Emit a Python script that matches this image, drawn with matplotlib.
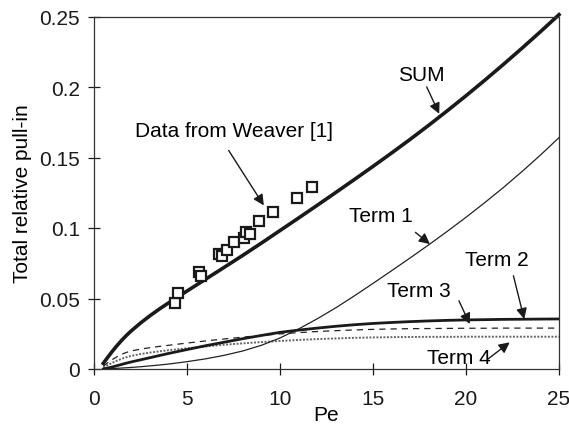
import matplotlib
matplotlib.use("Agg")
import matplotlib.pyplot as plt

plt.rcParams['font.family'] = ['Liberation Sans', 'DejaVu Sans']

# Curves
pe = [0.5, 0.75, 1, 1.25, 1.5, 1.75, 2, 2.5, 3, 3.5, 4, 5, 6, 7, 8, 9, 10, 11, 12,
      13, 14, 15, 16, 17, 18, 19, 20, 21, 22, 23, 24, 25]
sum_curve = [0.004, 0.0085, 0.0128, 0.0168, 0.0205, 0.0239, 0.027, 0.0326, 0.0377, 0.0424,
             0.0468, 0.0553, 0.0637, 0.0721, 0.0806, 0.0893, 0.0982, 0.1071, 0.1161, 0.1252,
             0.1344, 0.1437, 0.1532, 0.1629, 0.1729, 0.1832, 0.1938, 0.2047, 0.2159, 0.2274,
             0.2392, 0.2513]
term1 = [0.0, 0.0001, 0.0003, 0.0005, 0.0007, 0.0009, 0.0011, 0.0016, 0.0022, 0.0028,
         0.0035, 0.0052, 0.0072, 0.0097, 0.0128, 0.0168, 0.022, 0.0284, 0.0356, 0.0434,
         0.0519, 0.0607, 0.0697, 0.0788, 0.0881, 0.0977, 0.1076, 0.1179, 0.1286, 0.1399,
         0.1517, 0.1641]
term2 = [0.0, 0.0007, 0.0015, 0.0024, 0.0033, 0.0042, 0.005, 0.0065, 0.008, 0.0095,
         0.011, 0.0138, 0.0165, 0.019, 0.0215, 0.0238, 0.026, 0.0276, 0.029, 0.0303,
         0.0314, 0.0323, 0.033, 0.0336, 0.0341, 0.0345, 0.0348, 0.035, 0.0352, 0.0353,
         0.0354, 0.0355]
term3 = [0.002, 0.0045, 0.0068, 0.0088, 0.0105, 0.0118, 0.0128, 0.0141, 0.0151, 0.016,
         0.0168, 0.0184, 0.0199, 0.0213, 0.0226, 0.0238, 0.0249, 0.0258, 0.0266, 0.0272,
         0.0277, 0.0281, 0.0284, 0.0286, 0.0287, 0.0288, 0.0289, 0.0289, 0.029, 0.029,
         0.029, 0.029]
term4 = [0.001, 0.0028, 0.0045, 0.006, 0.0073, 0.0084, 0.0093, 0.0106, 0.0116, 0.0125,
         0.0133, 0.0147, 0.016, 0.0172, 0.0182, 0.0191, 0.0199, 0.0206, 0.0212, 0.0217,
         0.0221, 0.0224, 0.0226, 0.0227, 0.0228, 0.0228, 0.0229, 0.0229, 0.0229, 0.0229,
         0.0229, 0.0229]

# Weaver data
weaver_pe = [4.35, 4.53, 5.66, 5.74, 6.74, 6.87, 7.13, 7.53, 8.06, 8.15, 8.4, 8.87, 9.64, 10.9, 11.72]
weaver_y = [0.0466, 0.0539, 0.0685, 0.0657, 0.0813, 0.0799, 0.0843, 0.0902, 0.0926, 0.097,
            0.096, 0.105, 0.111, 0.121, 0.129]

xticks = [0, 5, 10, 15, 20, 25]
yticks = [0, 0.05, 0.1, 0.15, 0.2, 0.25]
yticklabels = ['0', '0.05', '0.1', '0.15', '0.2', '0.25']

fig = plt.figure(figsize=(5.69, 4.31), dpi=100)
ax = fig.add_axes([94/569, 1-370/431, (559-94)/569, (370-17.5)/431])

ax.plot(pe, term4, color='#666666', lw=1.4, linestyle=(0, (1, 0.8)))
ax.plot(pe, term3, color='#222222', lw=0.9, linestyle=(0, (5, 4)))
ax.plot(pe, term1, color='#222222', lw=0.9)
ax.plot(pe, term2, color='#1a1a1a', lw=2.0)
ax.plot(pe, sum_curve, color='#1a1a1a', lw=2.6, clip_on=False)
ax.plot(weaver_pe, weaver_y, linestyle='none', marker='s', markersize=7.5,
        markerfacecolor='white', markeredgecolor='#1a1a1a', markeredgewidth=1.6)

ax.set_xlim(0, 25)
ax.set_ylim(0, 0.25)
ax.set_xticks(xticks)
ax.set_xticklabels([str(v) for v in xticks])
ax.set_yticks(yticks)
ax.set_yticklabels(yticklabels)
ax.tick_params(direction='inout', length=8.5, width=0.9, labelsize=15, colors='#1a1a1a')
ax.tick_params(axis='x', pad=10)
ax.tick_params(axis='y', pad=6)
for s in ax.spines.values():
    s.set_linewidth(0.9)
    s.set_color('#333333')

ax.set_xlabel('Pe', fontsize=15, labelpad=-2)
ax.set_ylabel('Total relative pull-in', fontsize=15, labelpad=5)

arrow = dict(arrowstyle='-|>', lw=1.0, color='#1a1a1a', mutation_scale=16,
             shrinkA=0, shrinkB=0)
fs = 15
ax.text(17.62, 0.209, 'SUM', fontsize=fs, ha='center', va='center')
ax.annotate('', xy=(18.56, 0.181), xytext=(17.89, 0.200), arrowprops=arrow)
ax.text(7.53, 0.169, 'Data from Weaver [1]', fontsize=fs, ha='center', va='center')
ax.annotate('', xy=(9.13, 0.116), xytext=(7.24, 0.155), arrowprops=arrow)
ax.text(15.43, 0.1087, 'Term 1', fontsize=fs, ha='center', va='center')
ax.annotate('', xy=(18.06, 0.0886), xytext=(17.28, 0.0969), arrowprops=arrow)
ax.text(21.67, 0.078, 'Term 2', fontsize=fs, ha='center', va='center')
ax.annotate('', xy=(23.13, 0.0354), xytext=(22.55, 0.0661), arrowprops=arrow)
ax.text(17.47, 0.0555, 'Term 3', fontsize=fs, ha='center', va='center')
ax.annotate('', xy=(20.2, 0.0319), xytext=(19.62, 0.0484), arrowprops=arrow)
ax.text(19.62, 0.0083, 'Term 4', fontsize=fs, ha='center', va='center')
ax.annotate('', xy=(22.35, 0.0189), xytext=(21.18, 0.0071), arrowprops=arrow)

fig.savefig('out.png', dpi=100)
